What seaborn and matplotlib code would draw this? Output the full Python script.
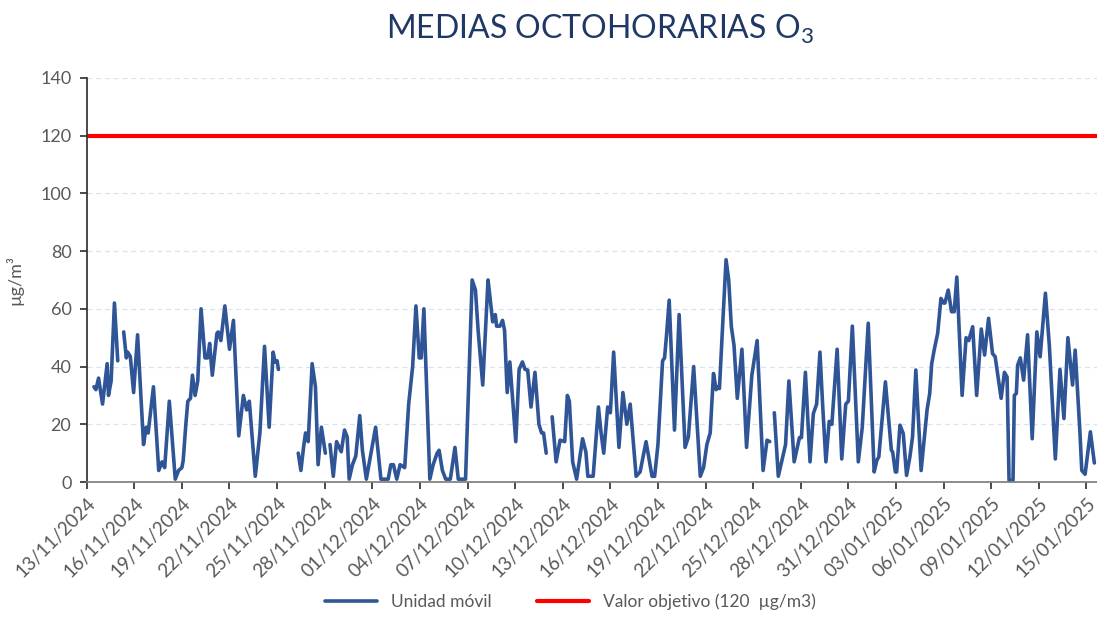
import numpy as np
import pandas as pd
import matplotlib
matplotlib.use("Agg")
import matplotlib.pyplot as plt
import seaborn as sns
from matplotlib.lines import Line2D


# medias octohorarias de O3 (hora desde 13/11/2024 00:00, valor en ug/m3), NaN = hueco sin datos
start = pd.Timestamp("2024-11-13 00:00")

hours = [11, 14, 18, 24, 31, 33, 37, 42, 47, 50,
         56, 60, 62, 66, 71, 77, 86, 90, 93, 101, 109, 114, 118, 125, 134, 139, 144, 146, 150, 153,
         157, 160, 164, 168, 173, 179, 183, 186, 190, 197, 199, 203, 209, 216, 222, 230, 237, 242, 246, 255,
         262, 269, 276, 282, 285, 288, 290, 292,
         320, 324, 328, 331, 335, 341, 346, 350, 355, 361, 363,
         368, 373, 378, 385, 390, 394, 397, 402, 407, 413, 417, 423, 430, 437, 445, 456, 460, 464, 469, 474,
         481, 487, 493, 498, 503, 506, 510, 519, 524, 530, 533, 538, 543, 550, 557, 562, 573, 583, 588, 592,
         599, 607, 610, 614, 618, 620, 625, 629, 632, 636, 640, 649, 654, 659, 663, 667, 672, 678, 684, 688,
         691, 695, 698,
         704, 710, 716, 723, 727, 730, 735, 741, 750, 755, 758, 766, 774, 778, 782, 788, 792, 797, 805, 811,
         817, 822, 831, 837, 846, 855, 859, 864, 871, 874, 877, 881, 889, 896, 905, 910, 918, 928, 933, 938,
         943, 948, 952, 955, 957, 962, 967, 971, 975, 979, 984, 991, 998, 1006, 1014, 1023, 1029, 1033, 1036,
         1040, 1046, 1053, 1057, 1062, 1070, 1078, 1081, 1087, 1094, 1099, 1104, 1109, 1113, 1118, 1123, 1127,
         1135, 1142, 1148, 1152, 1158, 1167, 1173, 1182, 1191, 1195, 1198, 1208, 1217, 1219, 1223, 1225, 1230,
         1235, 1240, 1245, 1249, 1254, 1262, 1271, 1275, 1278, 1282, 1287, 1292, 1296, 1298, 1303, 1308, 1312,
         1316, 1324, 1330, 1334, 1340, 1346, 1353, 1358, 1364, 1370, 1374, 1383, 1388, 1392, 1395, 1401, 1403,
         1406, 1408, 1412, 1417, 1423, 1430, 1437, 1442, 1450, 1456, 1465, 1472, 1478, 1484, 1491, 1495, 1502,
         1505, 1510, 1518, 1524]

ozone = [33, 32, 36, 27, 41, 30, 35, 62, 42, np.nan,
         52, 43, 45, 43.5, 31, 51, 13, 19, 17, 33, 4, 7, 5, 28, 1, 4, 5, 7.5, 20, 28,
         29, 37, 30, 35, 60, 43, 43, 48, 37, 51.5, 52, 49, 61, 46, 56, 16, 30, 25, 28, 2,
         17, 47, 19, 45, 41.5, 42, 39, np.nan,
         10, 4, 12, 17, 14, 41, 33, 6, 19, 10, np.nan,
         13, 2, 14, 10.5, 18, 15.6, 1, 6, 9, 23, 11, 1, 10, 19, 1, 1, 6, 6, 1, 6,
         5, 27, 40, 61, 43, 43, 60, 1, 6, 10, 11, 4, 1, 1, 12, 1, 1, 70, 66.5, 52.6,
         33.6, 70, 64, 55.5, 58, 54, 54, 56, 52.6, 31, 41.6, 14, 39, 41.6, 39, 38.8, 26, 38, 20, 17,
         17, 10, np.nan,
         22.6, 7, 14.5, 14, 30, 28, 7, 1, 15, 10.4, 2, 2, 26, 17, 10, 26, 24, 45, 12, 31,
         20, 27, 2, 3.5, 14, 2, 2, 13, 42, 43, 51, 63, 18, 58, 12, 15.6, 40, 2, 5, 13,
         17, 37.6, 32, 33, 32.4, 55, 77, 70, 53.8, 47.4, 29, 46, 12, 37, 49, 4, 14.5, 14, np.nan,
         24, 2, 9, 13, 35, 7, 15.4, 15.4, 38, 7, 23.7, 27, 45, 27, 7, 21, 20,
         46, 8, 27, 28, 54, 7, 19, 55, 3.5, 7.5, 8.7, 34.7, 11, 10.4, 3.5, 3.5, 19.7,
         16.8, 2.3, 8.7, 15.6, 38.8, 4, 25, 30.7, 41, 46, 51.5, 63.6, 62, 62, 66.5, 59, 59,
         71, 30, 50, 49, 53.8, 30, 53, 44, 56.7, 44.5, 43.4, 29, 38, 36.4, 0.6, 0.6, 30,
         30.7, 40.5, 43, 35.3, 51, 15, 52, 43.4, 65.4, 47, 8, 39, 22, 50, 33.6, 45.7, 18,
         4, 2.7, 17.4, 6.6]

limit = 120
series_labels = ["Unidad móvil", "Valor objetivo (120  µg/m3)"]
tick_dates = pd.date_range("2024-11-13", "2025-01-15", freq="3D")

df = pd.DataFrame({"hora": start + pd.to_timedelta(hours, unit="h"), "o3": ozone})
df["tramo"] = df["o3"].isna().cumsum()
df = df.dropna()

sns.set_theme(style="white")
plt.rcParams['font.family'] = ['Lato', 'DejaVu Sans']

blue = "#2F5597"
red = "#FF0000"
grey = "#595959"

fig = plt.figure(figsize=(10.97, 6.18), dpi=100)
ax = fig.add_axes([0.079, 0.22, 0.921, 0.654])

sns.lineplot(data=df, x="hora", y="o3", units="tramo", estimator=None,
             color=blue, linewidth=2.6, ax=ax)
ax.axhline(limit, color=red, linewidth=3)

ax.set_ylim(0, 140)
ax.set_yticks(range(0, 141, 20))
ax.set_xlim(start, start + pd.Timedelta(hours=1528))
ax.set_xticks(tick_dates)
ax.set_xticklabels([d.strftime("%d/%m/%Y") for d in tick_dates], rotation=45,
                   ha="right", rotation_mode="anchor")

ax.yaxis.grid(True, color="#D6E3F3", linestyle=(0, (4, 3)), linewidth=0.9)
ax.xaxis.grid(False)
ax.set_axisbelow(True)

for s in ["top", "right"]:
    ax.spines[s].set_visible(False)
ax.spines["left"].set_color("#333333")
ax.spines["bottom"].set_color("#7F7F7F")
ax.tick_params(axis="y", left=True, length=5, color="#333333", labelsize=13, labelcolor=grey, pad=6)
ax.tick_params(axis="x", bottom=True, length=5, color="#333333", labelsize=13.5, labelcolor=grey, pad=4)

ax.set_xlabel("")
ax.set_ylabel("µg/m³", fontsize=13, color=grey, labelpad=12)

fig.text(0.547, 0.953, "MEDIAS OCTOHORARIAS O$_\\mathregular{3}$", ha="center", va="center",
         fontsize=23, color="#1F3864")

handles = [Line2D([], [], color=blue, linewidth=2.6), Line2D([], [], color=red, linewidth=3)]
fig.legend(handles, series_labels, loc="lower center", bbox_to_anchor=(0.52, -0.012), ncol=2,
           frameon=False, fontsize=12.5, handlelength=3.0, columnspacing=2.6, labelcolor=grey)

fig.savefig("out.png", dpi=100)
